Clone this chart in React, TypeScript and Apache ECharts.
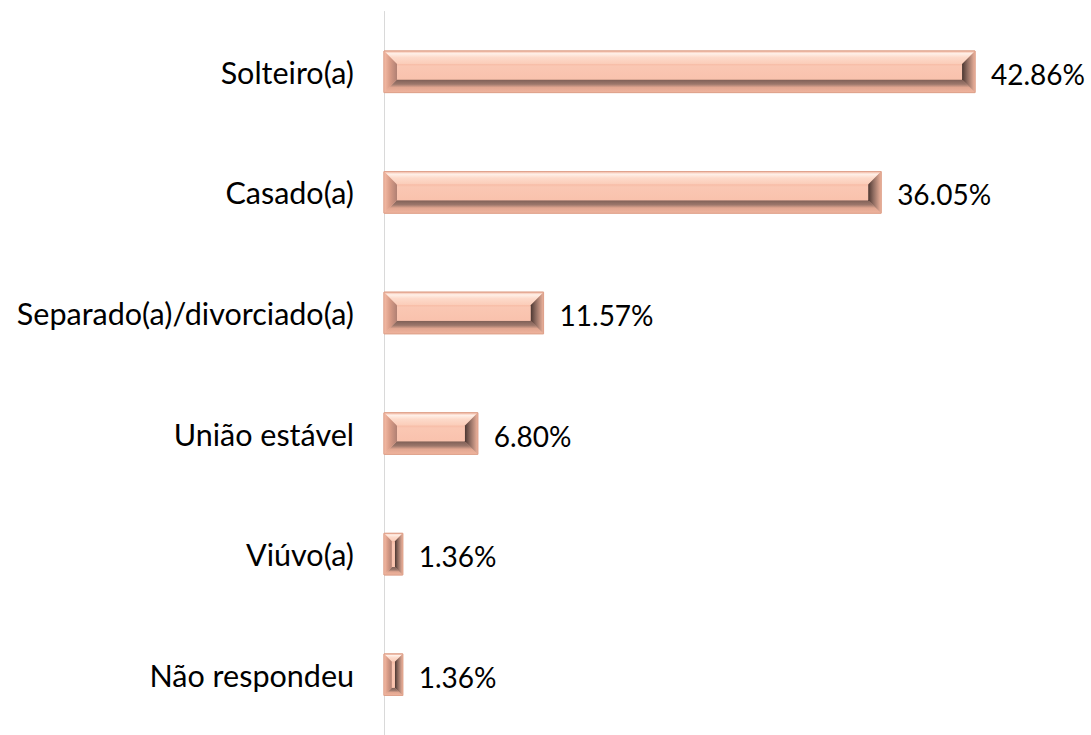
import React, { useEffect, useRef } from "react";
import * as echarts from "echarts";

const categories = [
  "Solteiro(a)",
  "Casado(a)",
  "Separado(a)/divorciado(a)",
  "União estável",
  "Viúvo(a)",
  "Não respondeu",
];
const values = [42.86, 36.05, 11.57, 6.8, 1.36, 1.36];
const valueLabels = ["42.86%", "36.05%", "11.57%", "6.80%", "1.36%", "1.36%"];

const FONT = "Lato";

export default function App() {
  const ref = useRef<HTMLDivElement>(null);
  useEffect(() => {
    if (!ref.current) return;
    const chart = echarts.init(ref.current, null, { renderer: "svg" });
    const LG = echarts.graphic.LinearGradient;
    const renderItem = (params: any, api: any) => {
      const idx = api.value(1);
      const v = api.value(0);
      const end = api.coord([v, idx]);
      const start = api.coord([0, idx]);
      const band = api.size([0, 1])[1];
      const h = band * 0.345;
      const x0 = start[0];
      const x1 = end[0];
      const y0 = end[1] - h / 2;
      const y1 = end[1] + h / 2;
      const w = x1 - x0;
      const b = Math.max(1, Math.min(13, w / 2 - 1.5, h / 2 - 3));
      const ix0 = x0 + b, ix1 = x1 - b, iy0 = y0 + b, iy1 = y1 - b;
      return {
        type: "group",
        children: [
          {
            type: "rect",
            shape: { x: x0, y: y0, width: w, height: h },
            style: { fill: "#F8BFA9", stroke: "#DFA38D", lineWidth: 1 },
          },
          {
            type: "polygon",
            shape: { points: [[x0, y0], [x1, y0], [ix1, iy0], [ix0, iy0]] },
            style: {
              fill: new LG(0, 0, 0, 1, [
                { offset: 0, color: "#F3B7A1" },
                { offset: 0.2, color: "#FFF0E8" },
                { offset: 0.5, color: "#FDDACA" },
                { offset: 1, color: "#FBCCB8" },
              ]),
            },
          },
          {
            type: "polygon",
            shape: { points: [[x0, y1], [x1, y1], [ix1, iy1], [ix0, iy1]] },
            style: {
              fill: new LG(0, 0, 0, 1, [
                { offset: 0, color: "#7E5F56" },
                { offset: 0.35, color: "#9C776B" },
                { offset: 0.6, color: "#E2A791" },
                { offset: 1, color: "#F0B49E" },
              ]),
            },
          },
          {
            type: "polygon",
            shape: { points: [[x0, y0], [ix0, iy0], [ix0, iy1], [x0, y1]] },
            style: {
              fill: new LG(0, 0, 1, 0, [
                { offset: 0, color: "#F6BCA6" },
                { offset: 0.45, color: "#D99C87" },
                { offset: 1, color: "#B08073" },
              ]),
            },
          },
          {
            type: "polygon",
            shape: { points: [[x1, y0], [ix1, iy0], [ix1, iy1], [x1, y1]] },
            style: {
              fill: new LG(0, 0, 1, 0, [
                { offset: 0, color: "#4A3530" },
                { offset: 0.4, color: "#8E6B60" },
                { offset: 1, color: "#EDB29C" },
              ]),
            },
          },
          {
            type: "rect",
            shape: { x: ix0, y: iy0, width: Math.max(0, ix1 - ix0), height: Math.max(0, iy1 - iy0) },
            style: {
              fill: new LG(0, 0, 0, 1, [
                { offset: 0, color: "#F7BCA6" },
                { offset: 0.15, color: "#FAC7B3" },
                { offset: 1, color: "#F9C2AD" },
              ]),
            },
          },
          {
            type: "rect",
            shape: { x: x0, y: y0, width: w, height: h },
            style: { fill: "none", stroke: "#DFA38D", lineWidth: 1 },
          },
          {
            type: "text",
            style: {
              x: x1 + 16,
              y: end[1] + 2,
              text: valueLabels[idx],
              fill: "#000000",
              font: `28px ${FONT}`,
              textVerticalAlign: "middle",
              verticalAlign: "middle",
              textAlign: "left",
              align: "left",
            },
          },
        ],
      };
    };
    chart.setOption({
      animation: false,
      grid: { left: 384, top: 11.5, width: 689.5, height: 733 },
      xAxis: {
        type: "value",
        min: 0,
        max: 50,
        show: false,
      },
      yAxis: {
        type: "category",
        data: categories,
        inverse: true,
        axisLine: { show: true, lineStyle: { color: "#D9D9D9", width: 1 } },
        axisTick: { show: false },
        axisLabel: {
          margin: 30,
          color: "#000000",
          fontSize: 30.5,
          fontFamily: FONT,
        },
        splitLine: { show: false },
      },
      series: [
        {
          type: "custom",
          renderItem,
          data: values.map((v, i) => [v, i]),
          encode: { x: 0, y: 1 },
        },
      ],
    });
    return () => chart.dispose();
  }, []);
  return (
    <div
      ref={ref}
      style={{ position: "fixed", left: 0, top: 0, width: 1091, height: 735, background: "#fff" }}
    />
  );
}
